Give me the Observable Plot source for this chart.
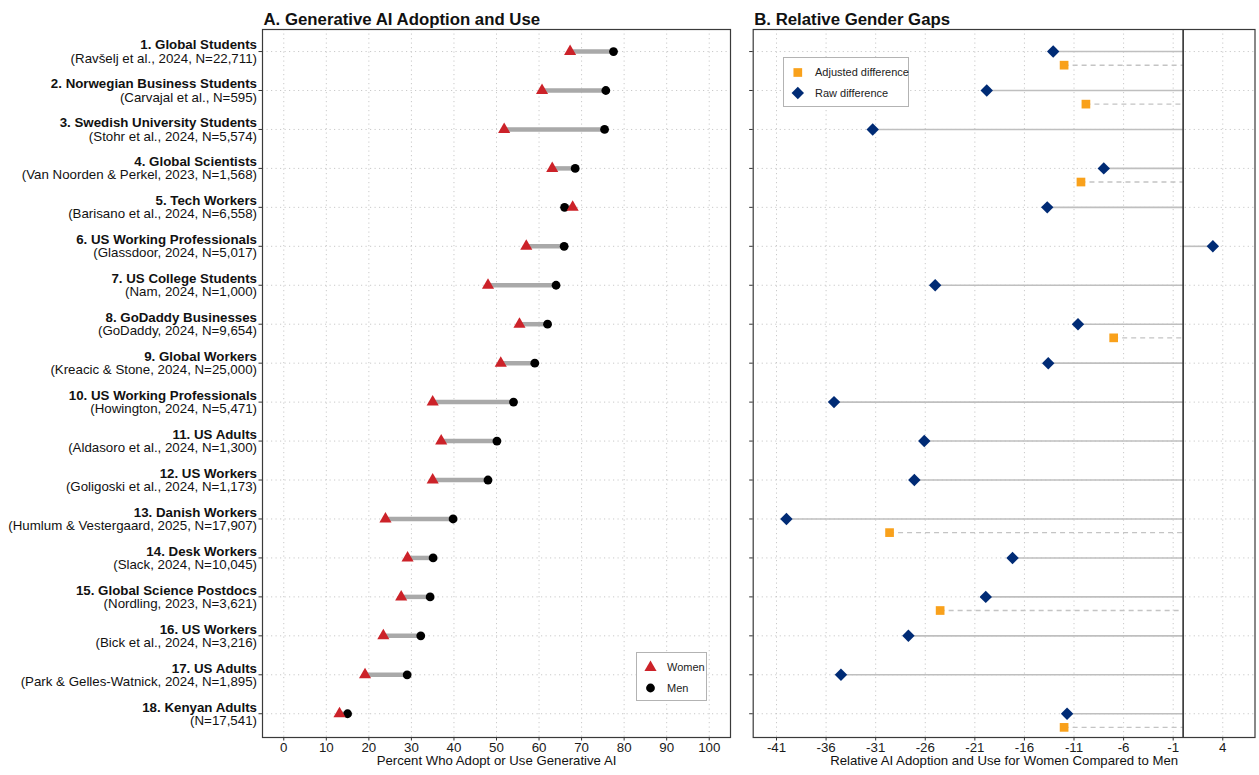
<!DOCTYPE html>
<html><head><meta charset="utf-8">
<script src="https://cdn.jsdelivr.net/npm/d3@7"></script>
<script src="https://cdn.jsdelivr.net/npm/@observablehq/plot@0.6"></script>
<style>
body{margin:0;background:#fff;font-family:"Liberation Sans",Arial,Helvetica,sans-serif;}
#wrap{position:relative;width:1259px;height:775px;display:flex;overflow:hidden;}
.legend{position:absolute;border:1.5px solid #b3b3b3;background:#fff;box-sizing:border-box;}
.legend svg{position:absolute;left:0;top:0;overflow:visible;}
</style></head><body><div id="wrap"></div>
<script>
const studies = [
  "1. Global Students","2. Norwegian Business Students","3. Swedish University Students",
  "4. Global Scientists","5. Tech Workers","6. US Working Professionals",
  "7. US College Students","8. GoDaddy Businesses","9. Global Workers",
  "10. US Working Professionals","11. US Adults","12. US Workers",
  "13. Danish Workers","14. Desk Workers","15. Global Science Postdocs",
  "16. US Workers","17. US Adults","18. Kenyan Adults"
];
const sources = [
  "(Ravšelj et al., 2024, N=22,711)","(Carvajal et al., N=595)","(Stohr et al., 2024, N=5,574)",
  "(Van Noorden & Perkel, 2023, N=1,568)","(Barisano et al., 2024, N=6,558)","(Glassdoor, 2024, N=5,017)",
  "(Nam, 2024, N=1,000)","(GoDaddy, 2024, N=9,654)","(Kreacic & Stone, 2024, N=25,000)",
  "(Howington, 2024, N=5,471)","(Aldasoro et al., 2024, N=1,300)","(Goligoski et al., 2024, N=1,173)",
  "(Humlum & Vestergaard, 2025, N=17,907)","(Slack, 2024, N=10,045)","(Nordling, 2023, N=3,621)",
  "(Bick et al., 2024, N=3,216)","(Park & Gelles-Watnick, 2024, N=1,895)","(N=17,541)"
];
const women = [67.3,60.7,51.8,63.1,67.9,57.0,48.0,55.4,51.0,35.0,37.0,35.0,23.9,29.1,27.6,23.4,19.1,13.1];
const men   = [77.5,75.7,75.4,68.5,66.0,65.9,64.0,62.0,59.0,54.0,50.1,48.0,39.8,35.1,34.4,32.2,29.0,15.0];
const rawDiff = [-13.1,-19.8,-31.3,-8.0,-13.7,3.0,-25.0,-10.6,-13.6,-35.2,-26.1,-27.1,-40.0,-17.2,-19.9,-27.7,-34.5,-11.7];
const adjDiff = [-12.0,-9.8,null,-10.3,null,null,null,-7.0,null,null,null,null,-29.6,null,-24.5,null,null,-12.0];
const xTicksA = [0,10,20,30,40,50,60,70,80,90,100];
const xTicksB = [-41,-36,-31,-26,-21,-16,-11,-6,-1,4];
const titleA = "A. Generative AI Adoption and Use";
const titleB = "B. Relative Gender Gaps";
const xLabelA = "Percent Who Adopt or Use Generative AI";
const xLabelB = "Relative AI Adoption and Use for Women Compared to Men";

const FONT = '"Liberation Sans",Arial,Helvetica,sans-serif';
const rows = studies.map((s,i)=>({i:i+1, study:s, source:sources[i], women:women[i], men:men[i], raw:rawDiff[i], adj:adjDiff[i]}));
const rowIdx = rows.map(d=>d.i);
const adjRows = rows.filter(d=>d.adj!=null);
const yScale = {domain:[0.434,18.61], reverse:true, axis:null};
const gridStyle = {stroke:"#c9c9c9", strokeOpacity:1, strokeDasharray:"1.2,3.3", strokeWidth:1};
const H = 775, MT = 29, MB = 38;
const hyphenFmt = d => String(d);

const plotA = Plot.plot({
  width:735, height:H, marginLeft:262, marginRight:5, marginTop:MT, marginBottom:MB,
  x:{domain:[-5,105], axis:null}, y:yScale,
  style:{fontFamily:FONT, fontSize:"13px", color:"#1a1a1a", background:"transparent", overflow:"visible"},
  marks:[
    Plot.gridX(xTicksA, gridStyle),
    Plot.gridY(rowIdx, gridStyle),
    Plot.axisX(xTicksA, {anchor:"bottom", tickSize:3.5, tickPadding:2, fontSize:13.3, label:null, stroke:"#333", tickFormat:hyphenFmt}),
    Plot.axisY(rowIdx, {anchor:"left", tickSize:3.5, tickFormat:()=>"", label:null, stroke:"#333"}),
    Plot.ruleY(rows, {y:"i", x1:"women", x2:"men", stroke:"#a9a9a9", strokeWidth:4.5}),
    Plot.dot(rows, {x:"men", y:"i", r:4.4, fill:"#000", symbol:"circle"}),
    Plot.dot(rows, {x:"women", y:"i", r:4.5, fill:"#cc2229", symbol:"triangle"}),
    Plot.text(rows, {y:"i", frameAnchor:"left", text:"study", textAnchor:"end", dx:-5.5, dy:-6.5, fontWeight:"bold", fontSize:13.3, fill:"#111"}),
    Plot.text(rows, {y:"i", frameAnchor:"left", text:"source", textAnchor:"end", dx:-5.5, dy:6.8, fontSize:13.3, fill:"#111"}),
    Plot.frame({stroke:"#3a3a3a", strokeWidth:1.2}),
    Plot.text([titleA], {frameAnchor:"top-left", text:d=>d, textAnchor:"start", dy:-16.5, dx:1, fontWeight:"bold", fontSize:16.8, fill:"#111"}),
    Plot.text([xLabelA], {frameAnchor:"bottom", text:d=>d, dy:27.5, fontSize:13.2, fill:"#111"})
  ]
});

const plotB = Plot.plot({
  width:524, height:H, marginLeft:17.7, marginRight:4.5, marginTop:MT, marginBottom:MB,
  x:{domain:[-43.35,7.25], axis:null}, y:yScale,
  style:{fontFamily:FONT, fontSize:"13px", color:"#1a1a1a", background:"transparent", overflow:"visible"},
  marks:[
    Plot.gridX(xTicksB, gridStyle),
    Plot.gridY(rowIdx, gridStyle),
    Plot.axisX(xTicksB, {anchor:"bottom", tickSize:3.5, tickPadding:2, fontSize:13.3, label:null, stroke:"#333", tickFormat:hyphenFmt}),
    Plot.axisY(rowIdx, {anchor:"left", tickSize:3.5, tickFormat:()=>"", label:null, stroke:"#333"}),
    Plot.ruleY(rows, {y:"i", x1:"raw", x2:()=>0, stroke:"#bfbfbf", strokeWidth:1.6}),
    Plot.ruleY(adjRows, {y:d=>d.i+0.35, x1:"adj", x2:()=>0, stroke:"#c4c4c4", strokeWidth:1.4, strokeDasharray:"5,4"}),
    Plot.ruleX([0], {stroke:"#000", strokeWidth:1.3}),
    Plot.dot(rows, {x:"raw", y:"i", r:5.6, fill:"#002b75", symbol:"diamond2"}),
    Plot.dot(adjRows, {x:"adj", y:d=>d.i+0.35, r:4.9, fill:"#f9a11b", symbol:"square"}),
    Plot.frame({stroke:"#3a3a3a", strokeWidth:1.2}),
    Plot.text([titleB], {frameAnchor:"top-left", text:d=>d, textAnchor:"start", dy:-16.5, dx:1, fontWeight:"bold", fontSize:16.8, fill:"#111"}),
    Plot.text([xLabelB], {frameAnchor:"bottom", text:d=>d, dy:27.5, fontSize:13.2, fill:"#111"})
  ]
});

const wrap = document.getElementById("wrap");
wrap.appendChild(plotA);
wrap.appendChild(plotB);

// legends (HTML overlays)
function legend(left, top, w, h, items){
  const div = document.createElement("div");
  div.className = "legend";
  div.style.left = left+"px"; div.style.top = top+"px";
  div.style.width = w+"px"; div.style.height = h+"px";
  const svg = d3.create("svg").attr("width", w).attr("height", h);
  items.forEach(it=>{
    const sym = d3.symbol().type(it.type).size(it.size);
    svg.append("path").attr("d", sym()).attr("fill", it.color)
      .attr("transform", `translate(${it.sx},${it.sy})`);
    svg.append("text").attr("x", it.tx).attr("y", it.sy).attr("dy","0.35em")
      .attr("font-family", FONT).attr("font-size", 11).attr("fill","#222").text(it.label);
  });
  div.appendChild(svg.node());
  wrap.appendChild(div);
}
legend(636, 652, 71, 49, [
  {type:d3.symbolTriangle, size:Math.PI*4.5*4.5, color:"#cc2229", sx:13.5, sy:14.5, tx:30, label:"Women"},
  {type:d3.symbolCircle, size:Math.PI*4.4*4.4, color:"#000", sx:13.5, sy:35, tx:30, label:"Men"}
]);
legend(783, 57, 126, 50, [
  {type:d3.symbolSquare, size:Math.PI*4.9*4.9, color:"#f9a11b", sx:13.8, sy:14.5, tx:31, label:"Adjusted difference"},
  {type:d3.symbolDiamond2, size:Math.PI*5.6*5.6, color:"#002b75", sx:13.8, sy:35, tx:31, label:"Raw difference"}
]);
</script></body></html>
